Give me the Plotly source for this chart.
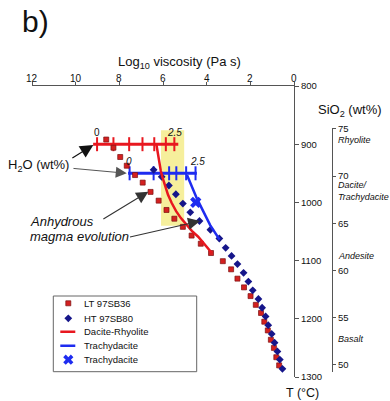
import plotly.graph_objects as go

# ---- measured samples: temperature (°C) vs log10 viscosity (Pa s) ----
lt_temp = [892, 906, 922, 937, 953, 966, 982, 997, 1013, 1028, 1042, 1057, 1071, 1087,
           1101, 1115, 1131, 1146, 1161, 1176, 1190, 1205, 1220, 1236, 1250, 1266, 1280]
lt_visc = [8.60, 8.27, 7.96, 7.66, 7.28, 6.93, 6.57, 6.20, 5.84, 5.48, 5.09, 4.69, 4.27, 3.80,
           3.26, 2.88, 2.59, 2.29, 1.99, 1.75, 1.51, 1.36, 1.20, 1.06, 0.92, 0.81, 0.68]

ht_temp = [944, 956, 971, 986, 1002, 1017, 1032, 1047, 1062, 1078, 1092, 1106,
           1121, 1136, 1151, 1166, 1181, 1196, 1211, 1226, 1241, 1256, 1270, 1286]
ht_visc = [6.43, 6.06, 5.73, 5.41, 5.09, 4.75, 4.33, 3.83, 3.42, 3.13, 2.86, 2.59,
           2.31, 2.09, 1.89, 1.63, 1.46, 1.30, 1.18, 1.02, 0.89, 0.76, 0.65, 0.53]

# ---- anhydrous melt models ----
dr_temp = [901, 913, 924, 935, 946, 956, 967, 977, 987, 1001, 1015, 1027, 1038, 1049, 1059, 1072, 1086]
dr_visc = [6.30, 6.25, 6.20, 6.15, 6.10, 6.03, 5.95, 5.87, 5.77, 5.60, 5.40, 5.18, 4.94, 4.68, 4.39, 4.10, 3.78]

td_temp = [953, 974, 994, 1015, 1039, 1064]
td_visc = [4.90, 4.67, 4.44, 4.16, 3.84, 3.41]

td_point_temp = [1000]
td_point_visc = [4.50]

# ---- effect of dissolved water (0 -> 2.5 wt% H2O) at fixed temperature ----
dr_h2o_temp = 900
dr_h2o_span = [9.20, 5.30]
dr_h2o_ticks = [9.02, 8.27, 7.55, 6.94, 6.40, 5.87, 5.48]

td_h2o_temp = 950
td_h2o_span = [7.60, 4.45]
td_h2o_ticks = [7.53, 6.43, 5.72, 5.39, 4.94, 4.51]

# highlighted viscosity / temperature window
band_visc = [6.09, 5.03]
band_temp = [876, 1040]

# ---- axes ----
visc_ticks = [12, 10, 8, 6, 4, 2, 0]
temp_ticks = [800, 900, 1000, 1100, 1200, 1300]
sio2_ticks = [50, 55, 60, 65, 70, 75]
rock_names = ["Rhyolite", "Dacite/<br>Trachydacite", "Andesite", "Basalt"]
rock_sio2 = [73.8, 68.4, 61.5, 52.7]

RED = "#e8171f"
BLUE = "#1e2cf0"
NAVY = "#16168a"
SQ_FILL = "#d42020"
SQ_EDGE = "#7a1010"
FONT = "Liberation Sans, Arial, sans-serif"
AXC = "#555555"

# plot-area geometry (pixels) used to place paper-referenced items
L, R, T, B = 32, 50, 86, 24
PW, PH = 390 - L - R, 401 - T - B


def px(x):
    return (x - L) / PW


def py(y):
    return (401 - B - y) / PH


fig = go.Figure()

# highlighted window drawn first so everything sits on top of it
fig.add_shape(type="rect", xref="x", yref="y", x0=band_visc[0], x1=band_visc[1],
              y0=band_temp[0], y1=band_temp[1], fillcolor="#f6ef9c",
              line=dict(width=0), layer="below")

# water lines
fig.add_trace(go.Scatter(x=dr_h2o_span, y=[dr_h2o_temp] * 2, mode="lines",
                         line=dict(color=RED, width=3)))
fig.add_trace(go.Scatter(x=dr_h2o_ticks, y=[dr_h2o_temp] * len(dr_h2o_ticks), mode="markers",
                         marker=dict(symbol="line-ns", size=10, color=RED,
                                     line=dict(color=RED, width=2))))
fig.add_trace(go.Scatter(x=td_h2o_span, y=[td_h2o_temp] * 2, mode="lines",
                         line=dict(color=BLUE, width=3)))
fig.add_trace(go.Scatter(x=td_h2o_ticks, y=[td_h2o_temp] * len(td_h2o_ticks), mode="markers",
                         marker=dict(symbol="line-ns", size=10, color=BLUE,
                                     line=dict(color=BLUE, width=2))))

# measured samples
fig.add_trace(go.Scatter(x=lt_visc, y=lt_temp, mode="markers", name="LT 97SB36",
                         marker=dict(symbol="square", size=5, color=SQ_FILL,
                                     line=dict(color=SQ_EDGE, width=0.7))))
fig.add_trace(go.Scatter(x=ht_visc, y=ht_temp, mode="markers", name="HT 97SB80",
                         marker=dict(symbol="diamond", size=6, color=NAVY, line=dict(width=0))))

# anhydrous model curves
fig.add_trace(go.Scatter(x=dr_visc, y=dr_temp, mode="lines", name="Dacite-Rhyolite",
                         line=dict(color=RED, width=2.5)))
fig.add_trace(go.Scatter(x=td_visc, y=td_temp, mode="lines", name="Trachydacite",
                         line=dict(color=BLUE, width=2.5)))
fig.add_trace(go.Scatter(x=td_point_visc, y=td_point_temp, mode="markers", name="Trachydacite",
                         marker=dict(symbol="x", size=10, color=BLUE, line=dict(width=0))))

# ---- hand-built legend on its own small axes ----
leg_y = [7.3, 22.3, 35.7, 49.7, 63.7]
leg_labels = ["LT 97SB36", "HT 97SB80", "Dacite-Rhyolite", "Trachydacite", "Trachydacite"]
fig.add_trace(go.Scatter(x=[15], y=[leg_y[0]], xaxis="x3", yaxis="y3", mode="markers",
                         marker=dict(symbol="square", size=5, color=SQ_FILL,
                                     line=dict(color=SQ_EDGE, width=0.7))))
fig.add_trace(go.Scatter(x=[15], y=[leg_y[1]], xaxis="x3", yaxis="y3", mode="markers",
                         marker=dict(symbol="diamond", size=6, color=NAVY)))
fig.add_trace(go.Scatter(x=[7, 22], y=[leg_y[2]] * 2, xaxis="x3", yaxis="y3", mode="lines",
                         line=dict(color=RED, width=2.5)))
fig.add_trace(go.Scatter(x=[7, 22], y=[leg_y[3]] * 2, xaxis="x3", yaxis="y3", mode="lines",
                         line=dict(color=BLUE, width=2.5)))
fig.add_trace(go.Scatter(x=[15], y=[leg_y[4]], xaxis="x3", yaxis="y3", mode="markers",
                         marker=dict(symbol="x", size=9, color=BLUE, line=dict(width=0))))

annotations = []
for lbl, yy in zip(leg_labels, leg_y):
    annotations.append(dict(x=28.5, y=yy, xref="x3", yref="y3", text=lbl, showarrow=False,
                            xanchor="left", yanchor="middle",
                            font=dict(size=9.5, color="#111", family=FONT)))

# top-axis tick labels, set close to the axis line
for v in visc_ticks:
    annotations.append(dict(x=v, y=py(78.5), xref="x", yref="paper", text=str(v),
                            showarrow=False, xanchor="center", yanchor="middle",
                            font=dict(size=10, color="#111", family=FONT)))


# water-content labels on the lines
def small(text, x, y, italic=True):
    return dict(x=x, y=y, xref="x", yref="y", text=f"<i>{text}</i>" if italic else text,
                showarrow=False, yshift=12, xanchor="center", yanchor="middle",
                font=dict(size=10, color="#111", family=FONT))


annotations += [
    small("0", dr_h2o_ticks[0], dr_h2o_temp, italic=False),
    small("2.5", dr_h2o_ticks[-1], dr_h2o_temp),
    small("0", td_h2o_ticks[0] + 0.05, td_h2o_temp),
    small("2.5", td_h2o_ticks[-1] - 0.07, td_h2o_temp),
]


def paper_text(text, x, y, size, xanchor="center"):
    return dict(x=px(x), y=py(y), xref="paper", yref="paper", text=text, showarrow=False,
                xanchor=xanchor, yanchor="middle", font=dict(size=size, color="#111", family=FONT))


# callout texts
annotations += [
    paper_text("H<sub>2</sub>O (wt%)", 38, 165, 13),
    paper_text("<i>Anhydrous</i>", 28, 221.7, 13, xanchor="left"),
    paper_text("<i>magma evolution</i>", 28, 236.7, 13, xanchor="left"),
]


# callout arrows (head at x/y, tail at ax/ay)
def arrow(x, y, ax, ay, color="#222", width=1.1):
    return dict(x=x, y=y, ax=ax, ay=ay, xref="x", yref="y", axref="x", ayref="y", text="",
                showarrow=True, arrowhead=2, arrowsize=2.2, arrowwidth=width, arrowcolor=color)


annotations += [
    arrow(9.19, 901.4, 10.22, 925.4, color="#111", width=1.2),
    arrow(7.66, 950, 10.17, 941.4, color="#555", width=1.0),
    arrow(6.67, 981.6, 8.80, 1030.2, color="#333", width=1.1),
    arrow(4.30, 1032, 7.58, 1060, color="#333", width=1.1),
]

# titles
annotations += [
    paper_text("b)", 35, 22, 30),
    paper_text("Log<sub>10</sub> viscosity (Pa s)", 179, 62, 13),
    paper_text("SiO<sub>2</sub> (wt%)", 350, 110, 13),
    paper_text("T (°C)", 302, 393, 12.5),
]

# rock names along the SiO2 scale
for name, s in zip(rock_names, rock_sio2):
    annotations.append(dict(x=px(336), y=s, xref="paper", yref="y2", text=f"<i>{name}</i>",
                            showarrow=False, xanchor="left", yanchor="middle", align="left",
                            font=dict(size=9, color="#111", family=FONT)))

fig.add_shape(type="rect", xref="paper", yref="paper", x0=px(53.3), x1=px(196.7), y0=py(371.7),
              y1=py(296), line=dict(color="#666", width=1), fillcolor="rgba(0,0,0,0)")

fig.update_layout(
    width=390, height=401,
    margin=dict(l=L, r=R, t=T, b=B),
    paper_bgcolor="white", plot_bgcolor="rgba(0,0,0,0)",
    showlegend=False,
    font=dict(family=FONT, color="#111"),
    xaxis=dict(domain=[0, px(294)], range=[12, 0], side="top", tickvals=visc_ticks,
               showticklabels=False, ticks="outside", ticklen=3, tickcolor=AXC,
               showline=True, linecolor=AXC, linewidth=1, showgrid=False, zeroline=False,
               anchor="y"),
    yaxis=dict(range=[1300, 800], side="right", anchor="x", tickvals=temp_ticks,
               ticks="outside", ticklen=4, tickcolor=AXC, showline=True, linecolor=AXC,
               linewidth=1, showgrid=False, zeroline=False, tickfont=dict(size=9.5)),
    yaxis2=dict(domain=[py(372), py(128)], range=[49.25, 75.1], anchor="free", position=px(332),
                side="right", tickvals=sio2_ticks, ticks="outside", ticklen=3, tickcolor=AXC,
                showline=True, linecolor=AXC, linewidth=1, showgrid=False, zeroline=False,
                tickfont=dict(size=9.5)),
    xaxis3=dict(domain=[px(53.3), px(196.7)], range=[0, 143.4], visible=False, anchor="y3"),
    yaxis3=dict(domain=[py(371.7), py(296)], range=[75.7, 0], visible=False, anchor="x3"),
    annotations=annotations,
)

fig.write_html("out.html")
